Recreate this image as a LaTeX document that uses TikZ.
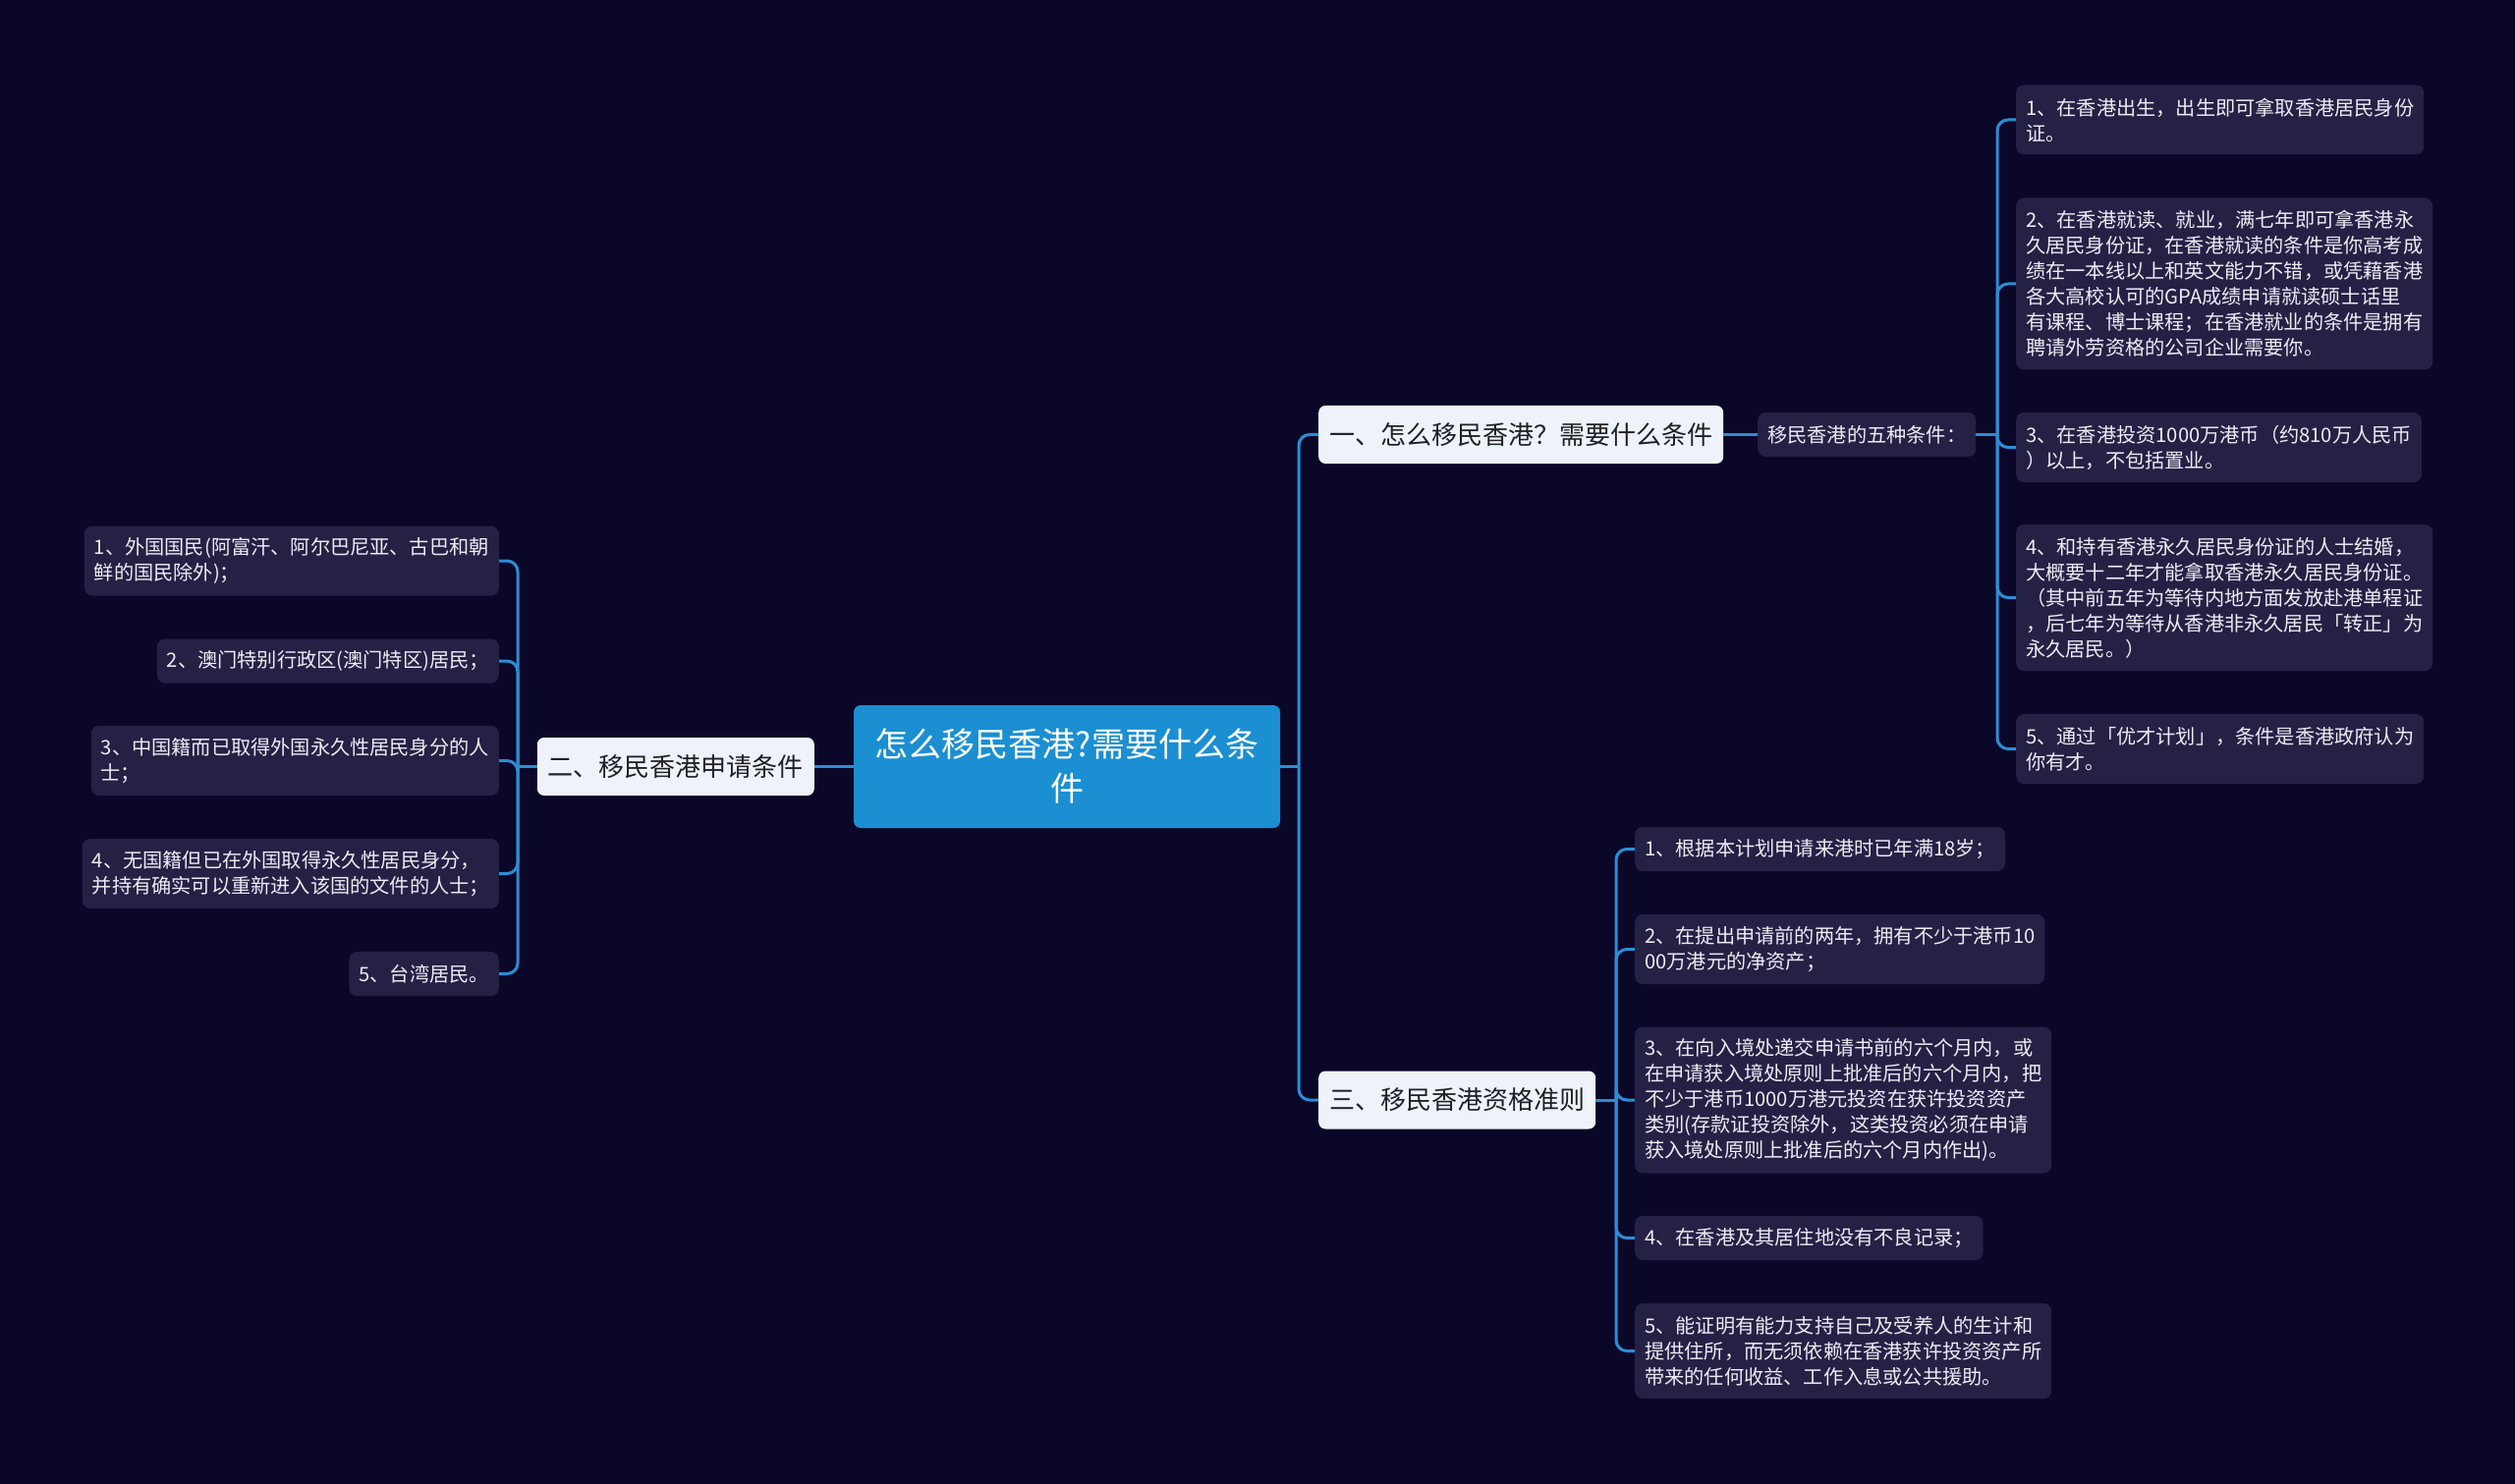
\documentclass[tikz,border=0pt]{standalone}
\usepackage{fontspec}
\setmainfont{Noto Sans CJK SC}
\definecolor{bg}{HTML}{0B0729}
\definecolor{leaf}{HTML}{252145}
\definecolor{rootc}{HTML}{1B8FD2}
\definecolor{lvl}{HTML}{EEF3FB}
\definecolor{conn}{HTML}{2B8ED4}
\definecolor{leaftext}{HTML}{ECECF4}
\definecolor{lvltext}{HTML}{1F1F24}
\begin{document}
\begin{tikzpicture}[x=1pt,y=-1pt,
 leafbox/.style={fill=leaf, rounded corners=8pt, text=leaftext, font=\fontsize{20.2pt}{26pt}\selectfont, align=left, inner xsep=10pt, inner ysep=0pt},
 lvlbox/.style={fill=lvl, rounded corners=7pt, text=lvltext, font=\fontsize{26pt}{32pt}\selectfont, inner xsep=11pt, inner ysep=0pt, minimum height=59pt},
 rootbox/.style={fill=rootc, rounded corners=7pt, text=white, font=\fontsize{34pt}{45pt}\selectfont, align=center, text width=400pt, inner xsep=17pt, inner ysep=0pt, minimum height=125pt},
 link/.style={draw=conn, line width=3pt},
 elbow/.style={link, rounded corners=11pt}]
\fill[bg] (0,0) rectangle (2560,1511);
\useasboundingbox (0,0) rectangle (2560,1511);

% root and level-1
\node[rootbox] (root) at (1086,780.5) {怎么移民香港?需要什么条\\件};
\node[lvlbox, anchor=east] (b2) at (829,780.5) {二、移民香港申请条件};
\node[lvlbox, anchor=west] (b1) at (1342,442.5) {一、怎么移民香港？需要什么条件};
\node[lvlbox, anchor=west] (b3) at (1342,1120) {三、移民香港资格准则};
\node[leafbox, anchor=west, minimum height=45pt] (f) at (1789,442.5) {移民香港的五种条件：};

% five conditions
\node[leafbox, anchor=west, minimum height=71pt] (r1) at (2052,122) {1、在香港出生，出生即可拿取香港居民身份\\证。};
\node[leafbox, anchor=west, minimum height=175pt] (r2) at (2052,289) {2、在香港就读、就业，满七年即可拿香港永\\久居民身份证，在香港就读的条件是你高考成\\绩在一本线以上和英文能力不错，或凭藉香港\\各大高校认可的GPA成绩申请就读硕士话里\\有课程、博士课程；在香港就业的条件是拥有\\聘请外劳资格的公司企业需要你。};
\node[leafbox, anchor=west, minimum height=71pt] (r3) at (2052,455.5) {3、在香港投资1000万港币（约810万人民币\\）以上，不包括置业。};
\node[leafbox, anchor=west, minimum height=149pt] (r4) at (2052,608.5) {4、和持有香港永久居民身份证的人士结婚，\\大概要十二年才能拿取香港永久居民身份证。\\（其中前五年为等待内地方面发放赴港单程证\\，后七年为等待从香港非永久居民「转正」为\\永久居民。）};
\node[leafbox, anchor=west, minimum height=71pt] (r5) at (2052,762.5) {5、通过「优才计划」，条件是香港政府认为\\你有才。};

% criteria
\node[leafbox, anchor=west, minimum height=45pt] (t1) at (1664,864.5) {1、根据本计划申请来港时已年满18岁；};
\node[leafbox, anchor=west, minimum height=71pt] (t2) at (1664,966.5) {2、在提出申请前的两年，拥有不少于港币10\\00万港元的净资产；};
\node[leafbox, anchor=west, minimum height=149pt] (t3) at (1664,1120) {3、在向入境处递交申请书前的六个月内，或\\在申请获入境处原则上批准后的六个月内，把\\不少于港币1000万港元投资在获许投资资产\\类别(存款证投资除外，这类投资必须在申请\\获入境处原则上批准后的六个月内作出)。};
\node[leafbox, anchor=west, minimum height=45pt] (t4) at (1664,1260.5) {4、在香港及其居住地没有不良记录；};
\node[leafbox, anchor=west, minimum height=97pt] (t5) at (1664,1375.5) {5、能证明有能力支持自己及受养人的生计和\\提供住所，而无须依赖在香港获许投资资产所\\带来的任何收益、工作入息或公共援助。};

% application conditions
\node[leafbox, anchor=east, minimum height=71pt] (l1) at (508,571) {1、外国国民(阿富汗、阿尔巴尼亚、古巴和朝\\鲜的国民除外)；};
\node[leafbox, anchor=east, minimum height=45pt] (l2) at (508,673) {2、澳门特别行政区(澳门特区)居民；};
\node[leafbox, anchor=east, minimum height=71pt] (l3) at (508,774.5) {3、中国籍而已取得外国永久性居民身分的人\\士；};
\node[leafbox, anchor=east, minimum height=71pt] (l4) at (508,889.5) {4、无国籍但已在外国取得永久性居民身分，\\并持有确实可以重新进入该国的文件的人士；};
\node[leafbox, anchor=east, minimum height=45pt] (l5) at (508,991.5) {5、台湾居民。};

% junctions
\coordinate (rj) at (1322,780.5);
\coordinate (lj) at (527,780.5);
\coordinate (fj) at (2033,442.5);
\coordinate (tj) at (1645,1120);

% connectors
\draw[link] (root.east) -- (rj);
\draw[elbow] (rj) |- (b1.west);
\draw[elbow] (rj) |- (b3.west);
\draw[link] (root.west) -- (b2.east);
\draw[link] (b2.west) -- (lj);
\foreach \n in {l1,l2,l3,l4,l5} \draw[elbow] (lj) |- (\n.east);
\draw[link] (b1.east) -- (f.west);
\draw[link] (f.east) -- (fj);
\foreach \n in {r1,r2,r3,r4,r5} \draw[elbow] (fj) |- (\n.west);
\draw[link] (b3.east) -- (tj);
\foreach \n in {t1,t2,t3,t4,t5} \draw[elbow] (tj) |- (\n.west);
\end{tikzpicture}
\end{document}
